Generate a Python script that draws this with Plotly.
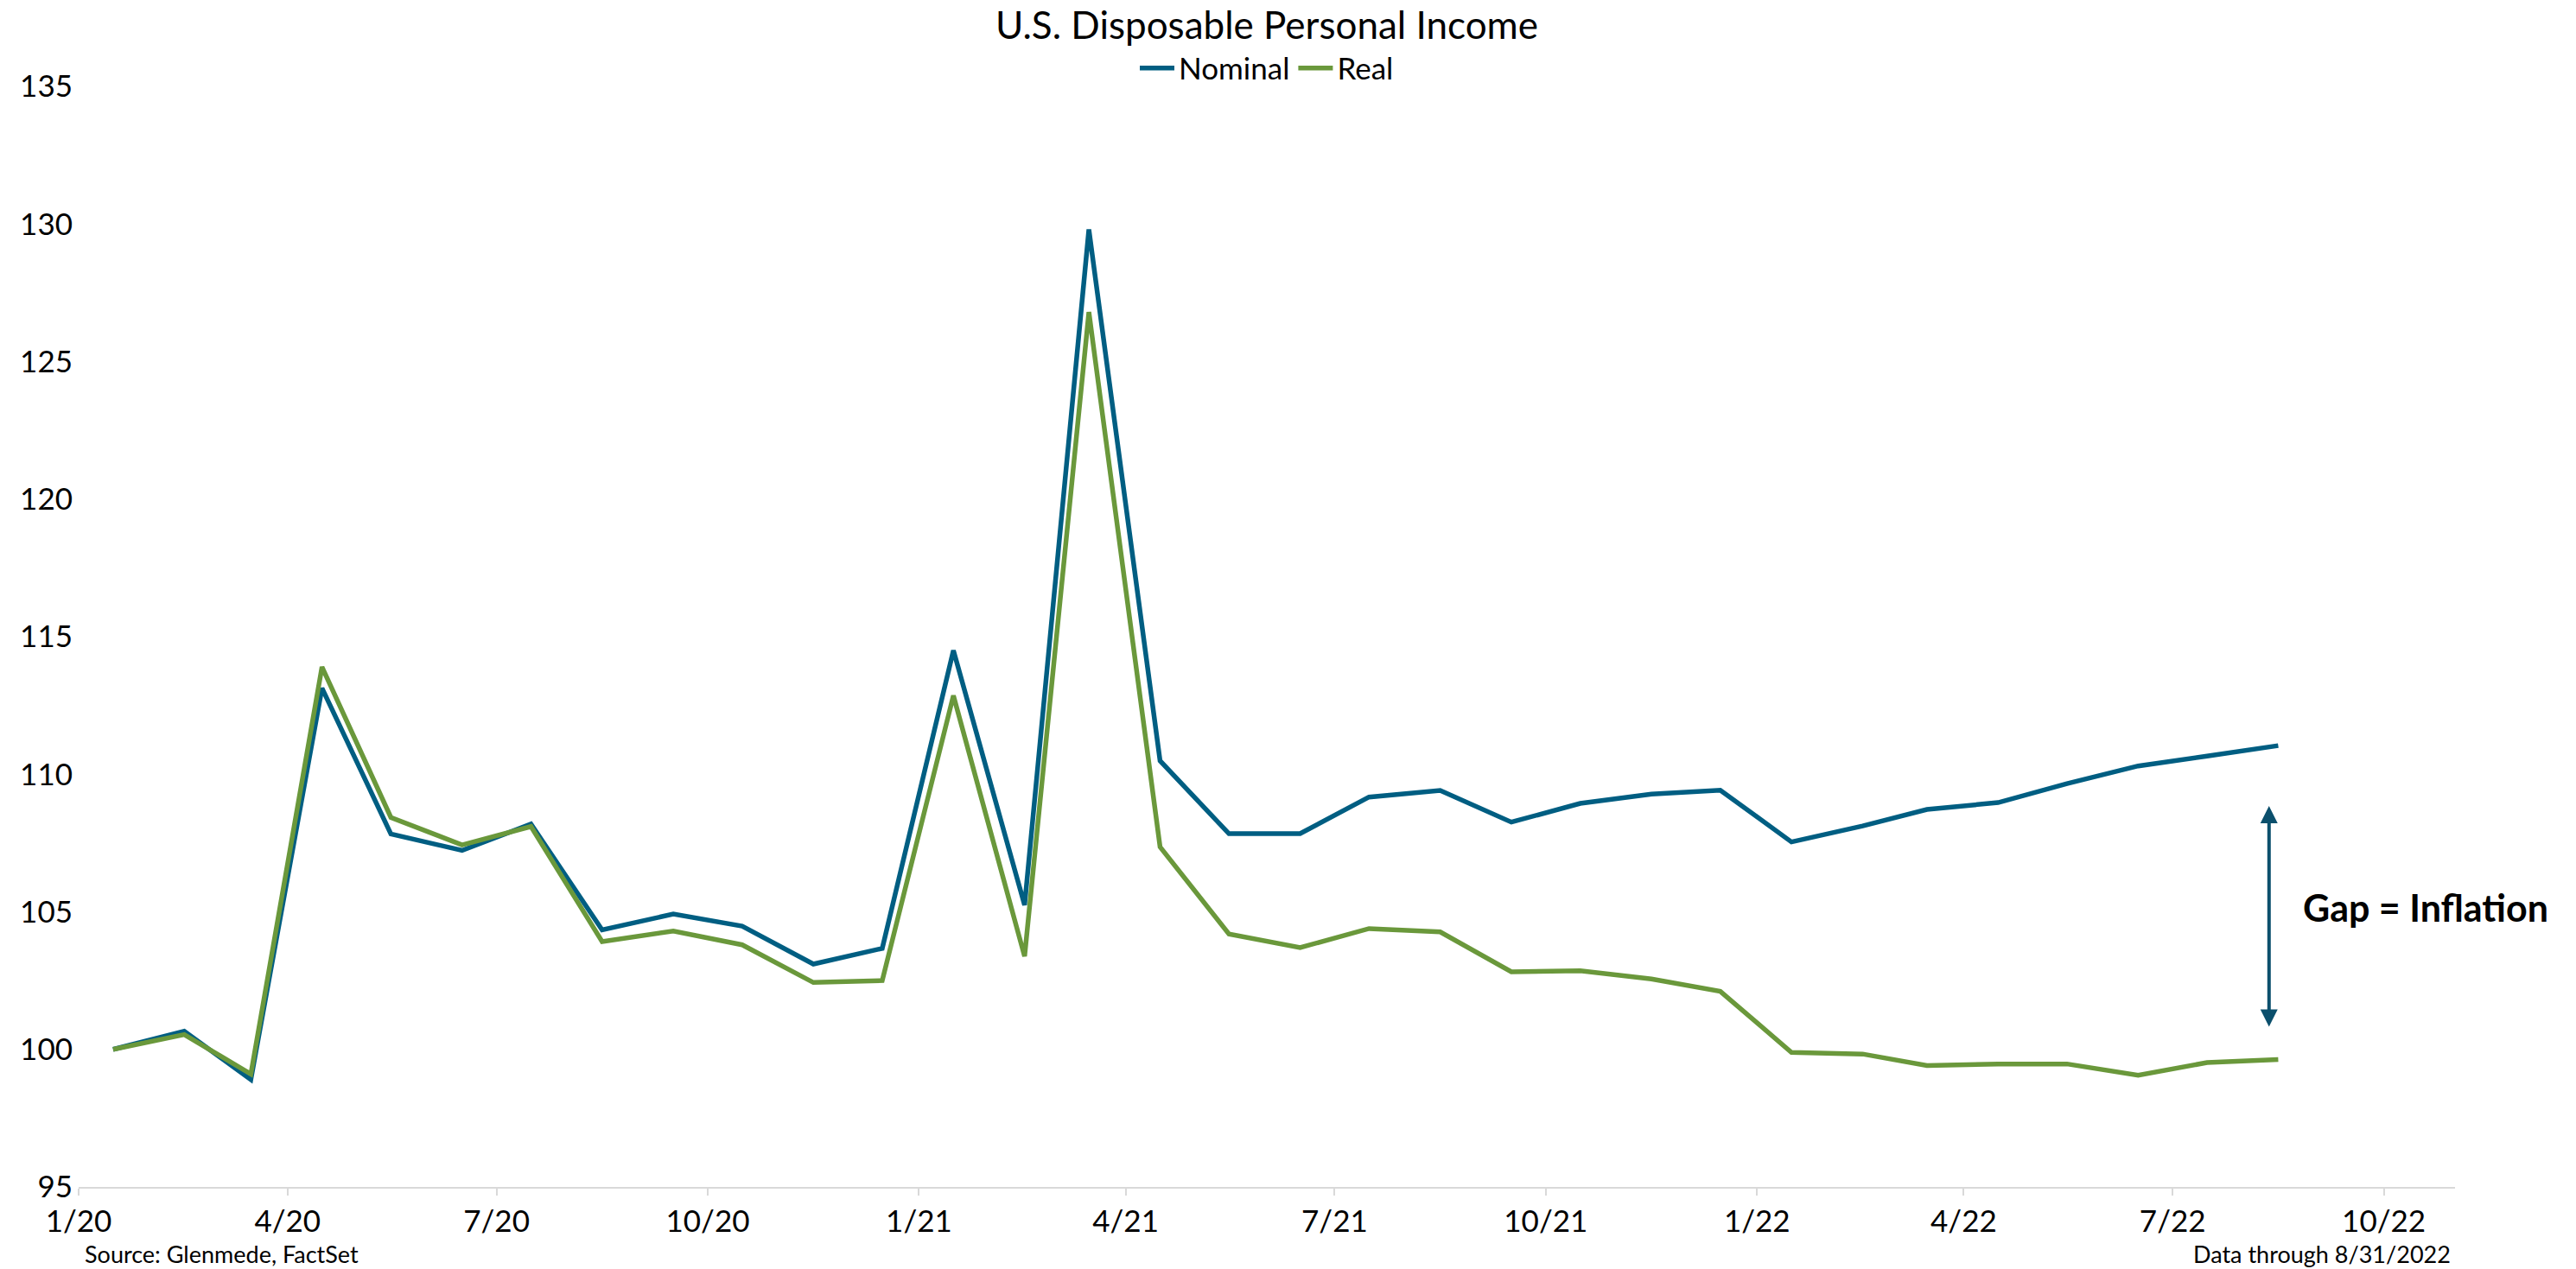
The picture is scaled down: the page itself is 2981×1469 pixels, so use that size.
import pandas as pd
import plotly.graph_objects as go

# Monthly observations, Jan 2020 - Aug 2022 (index, Jan 2020 = 100)
months = pd.date_range("2020-01-01", "2022-08-01", freq="MS")
dates = months + pd.Timedelta(days=15)

nominal = [100.0, 100.66, 98.9, 113.13, 107.83, 107.23, 108.19, 104.34, 104.92, 104.48,
           103.1, 103.67, 114.5, 105.24, 129.8, 110.49, 107.84, 107.84, 109.17, 109.41,
           108.26, 108.94, 109.28, 109.42, 107.54, 108.12, 108.72, 108.97, 109.66, 110.30,
           110.66, 111.04]
real = [100.0, 100.54, 99.1, 113.9, 108.43, 107.43, 108.1, 103.92, 104.3, 103.8,
        102.43, 102.5, 112.86, 103.38, 126.8, 107.36, 104.19, 103.70, 104.39, 104.27,
        102.82, 102.86, 102.56, 102.11, 99.89, 99.83, 99.41, 99.47, 99.47, 99.06,
        99.52, 99.63]

series_names = ["Nominal", "Real"]
colors = ["#005E82", "#6A983B"]

title_text = "U.S. Disposable Personal Income"
source_text = "Source: Glenmede, FactSet"
through_text = "Data through 8/31/2022"
gap_text = "Gap = Inflation"
gap_top, gap_bottom = 108.85, 100.78

FONT = "Lato"

fig = go.Figure()
for name, vals, c in zip(series_names, [nominal, real], colors):
    fig.add_trace(go.Scatter(x=dates, y=vals, mode="lines", name=name,
                             line=dict(color=c, width=5.5)))

arrow_x = pd.Timestamp("2022-08-12")
fig.add_annotation(x=arrow_x, y=gap_top, ax=arrow_x, ay=gap_bottom,
                   xref="x", yref="y", axref="x", ayref="y",
                   text="", showarrow=True, arrowhead=2, arrowside="end+start",
                   arrowsize=1, arrowwidth=4, arrowcolor="#0B4F6C")
fig.add_annotation(x=pd.Timestamp("2022-08-26"), y=105.17, xref="x", yref="y",
                   text="<b>" + gap_text + "</b>", showarrow=False,
                   xanchor="left", yanchor="middle",
                   font=dict(family=FONT, size=43, color="black"))
fig.add_annotation(x=0.0018, y=-0.061, xref="paper", yref="paper",
                   text=source_text, showarrow=False, xanchor="left", yanchor="middle",
                   font=dict(family=FONT, size=27, color="black"))
fig.add_annotation(x=0.999, y=-0.061, xref="paper", yref="paper",
                   text=through_text, showarrow=False, xanchor="right", yanchor="middle",
                   font=dict(family=FONT, size=27, color="black"))

fig.update_layout(
    width=2981, height=1469,
    paper_bgcolor="white", plot_bgcolor="white",
    margin=dict(l=91, r=140, t=100, b=95),
    font=dict(family=FONT, color="black", size=35),
    title=dict(text=title_text, x=0.5, xref="paper", y=1 - 30 / 1469, yref="container",
               xanchor="center", yanchor="middle",
               font=dict(family=FONT, size=44, color="black")),
    legend=dict(orientation="h", x=0.5, xanchor="center", y=1.0165, yanchor="middle",
                font=dict(family=FONT, size=35), itemwidth=40, bgcolor="rgba(0,0,0,0)",
                tracegroupgap=0),
    showlegend=True,
)
fig.update_xaxes(type="date", range=["2020-01-01", "2022-11-01"],
                 tick0="2020-01-01", dtick="M3", tickformat="%-m/%y",
                 showgrid=False, showline=True, linecolor="#D9D9D9", linewidth=2,
                 ticks="outside", ticklen=8, tickcolor="#D9D9D9", tickwidth=2,
                 tickfont=dict(family=FONT, size=35, color="black"), zeroline=False)
fig.update_yaxes(range=[95, 135], tick0=95, dtick=5, showgrid=False, showline=False,
                 zeroline=False, ticks="", ticklabelstandoff=6,
                 tickfont=dict(family=FONT, size=35, color="black"))

fig.write_html("out.html")
